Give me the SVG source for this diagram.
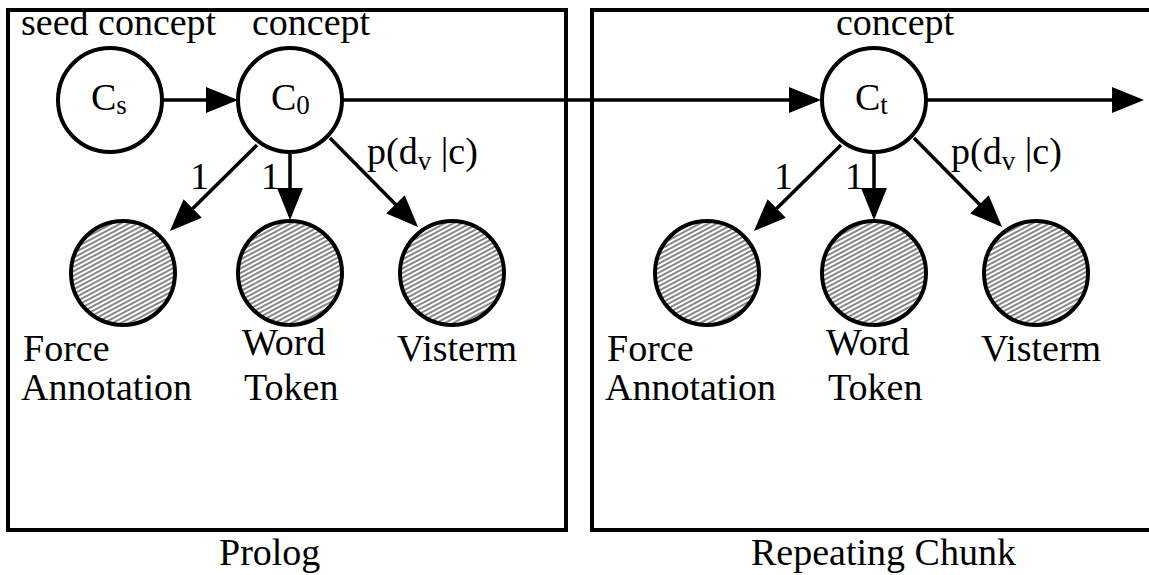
<svg xmlns="http://www.w3.org/2000/svg" width="1149" height="575" viewBox="0 0 1149 575" font-family="'Liberation Serif', 'Times New Roman', Times, 'DejaVu Serif', serif">
  <style>
    .frame { fill: none; stroke: #000; stroke-width: 4; }
    .node { fill: #fff; stroke: #000; stroke-width: 4; }
    .obs { fill: url(#hatch); stroke: #000; stroke-width: 4; }
    .edge { fill: none; stroke: #000; stroke-width: 3.5; marker-end: url(#arrow); }
    text { font-family: 'Liberation Serif', 'Times New Roman', Times, 'DejaVu Serif', serif; font-size: 38px; fill: #000; }
    .sub { font-size: 27px; }
  </style>
  <defs>
    <pattern id="hatch" patternUnits="userSpaceOnUse" width="8" height="4" patternTransform="rotate(-28)">
      <rect width="8" height="4" fill="#fff"/>
      <line x1="0" y1="2" x2="8" y2="2" stroke="#111" stroke-width="1"/>
    </pattern>
    <marker id="arrow" markerUnits="userSpaceOnUse" markerWidth="34" markerHeight="27" refX="28" refY="13" orient="auto">
      <path d="M0,0 L32,13 L0,26 z" fill="#000"/>
    </marker>
  </defs>

  <!-- plates -->
  <g id="prolog">
    <rect class="frame" x="8" y="10" width="558" height="520"/>
    <text x="219" y="565">Prolog</text>
  </g>
  <g id="repeating-chunk">
    <rect class="frame" x="592" y="10" width="570" height="520"/>
    <text x="751" y="565">Repeating Chunk</text>
  </g>

  <!-- connectors -->
  <g id="edges">
    <line class="edge" x1="163" y1="100" x2="234" y2="100"/>
    <line class="edge" x1="343" y1="100" x2="817" y2="100"/>
    <line class="edge" x1="927" y1="100" x2="1140" y2="100"/>

    <line class="edge" x1="257" y1="145" x2="172.8" y2="228.2"/>
    <line class="edge" x1="290" y1="153" x2="290" y2="216"/>
    <line class="edge" x1="330" y1="138" x2="415.2" y2="224.2"/>

    <line class="edge" x1="841" y1="145" x2="756.8" y2="228.2"/>
    <line class="edge" x1="874" y1="153" x2="874" y2="216"/>
    <line class="edge" x1="914" y1="138" x2="999.2" y2="224.2"/>

    <text x="190" y="189">1</text>
    <text x="261" y="189">1</text>
    <text x="367" y="164">p(d<tspan class="sub" dy="6">v</tspan><tspan dy="-6"> |c)</tspan></text>

    <text x="774" y="189">1</text>
    <text x="845" y="189">1</text>
    <text x="951" y="164">p(d<tspan class="sub" dy="6">v</tspan><tspan dy="-6"> |c)</tspan></text>
  </g>

  <!-- prolog nodes -->
  <g id="seed-concept">
    <circle class="node" cx="110" cy="100" r="52"/>
    <text x="21" y="35">seed concept</text>
    <text x="91" y="110">C<tspan class="sub" dy="4">s</tspan></text>
  </g>
  <g id="concept-0">
    <circle class="node" cx="290" cy="100" r="52"/>
    <text x="252" y="35">concept</text>
    <text x="271" y="110">C<tspan class="sub" dy="4">0</tspan></text>
  </g>
  <g id="force-annotation-0">
    <circle class="obs" cx="123" cy="273" r="52"/>
    <text x="23" y="361">Force</text>
    <text x="21" y="400">Annotation</text>
  </g>
  <g id="word-token-0">
    <circle class="obs" cx="290" cy="273" r="52"/>
    <text x="242" y="355">Word</text>
    <text x="244" y="400">Token</text>
  </g>
  <g id="visterm-0">
    <circle class="obs" cx="452" cy="273" r="52"/>
    <text x="397" y="361">Visterm</text>
  </g>

  <!-- repeating chunk nodes -->
  <g id="concept-t">
    <circle class="node" cx="874" cy="100" r="52"/>
    <text x="836" y="35">concept</text>
    <text x="855" y="110">C<tspan class="sub" dy="4">t</tspan></text>
  </g>
  <g id="force-annotation-t">
    <circle class="obs" cx="707" cy="273" r="52"/>
    <text x="607" y="361">Force</text>
    <text x="605" y="400">Annotation</text>
  </g>
  <g id="word-token-t">
    <circle class="obs" cx="874" cy="273" r="52"/>
    <text x="826" y="355">Word</text>
    <text x="828" y="400">Token</text>
  </g>
  <g id="visterm-t">
    <circle class="obs" cx="1036" cy="273" r="52"/>
    <text x="981" y="361">Visterm</text>
  </g>
</svg>
